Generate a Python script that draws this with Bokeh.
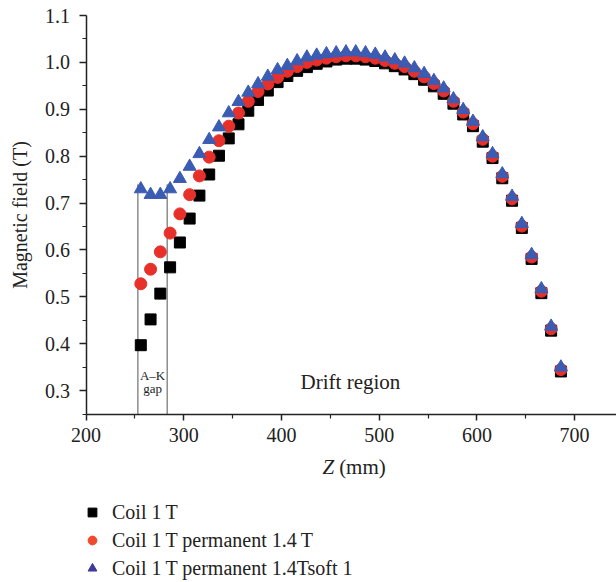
from bokeh.plotting import figure
from bokeh.models import Legend, LegendItem, Label, FixedTicker, PrintfTickFormatter
from bokeh.embed import file_html
from bokeh.resources import INLINE

# ---- data ----
z_mm = [256, 266, 276, 286, 296, 306, 316, 326, 336, 346, 356, 366, 376, 386, 396,
        406, 416, 426, 436, 446, 456, 466, 476, 486, 496, 506, 516, 526, 536, 546,
        556, 566, 576, 586, 596, 606, 616, 626, 636, 646, 656, 666, 676, 686]

coil_1T = [0.397, 0.452, 0.507, 0.563, 0.616, 0.667, 0.716, 0.761, 0.801, 0.838,
           0.868, 0.897, 0.920, 0.940, 0.958, 0.971, 0.982, 0.990, 0.997, 1.002,
           1.006, 1.008, 1.008, 1.006, 1.003, 0.998, 0.992, 0.985, 0.975, 0.963,
           0.949, 0.933, 0.912, 0.889, 0.864, 0.831, 0.796, 0.753, 0.705, 0.647,
           0.581, 0.508, 0.428, 0.341]

coil_perm = [0.528, 0.559, 0.596, 0.636, 0.677, 0.718, 0.758, 0.798, 0.833, 0.864,
             0.892, 0.917, 0.938, 0.954, 0.968, 0.981, 0.991, 1.000, 1.005, 1.009,
             1.012, 1.014, 1.014, 1.012, 1.009, 1.004, 0.998, 0.991, 0.981, 0.969,
             0.955, 0.939, 0.917, 0.894, 0.869, 0.836, 0.800, 0.757, 0.709, 0.651,
             0.585, 0.512, 0.432, 0.345]

coil_perm_soft = [0.730, 0.718, 0.718, 0.730, 0.752, 0.778, 0.805, 0.835, 0.862, 0.892,
                  0.916, 0.936, 0.954, 0.970, 0.984, 0.993, 1.003, 1.011, 1.015, 1.018,
                  1.020, 1.022, 1.022, 1.020, 1.017, 1.011, 1.005, 0.998, 0.988, 0.976,
                  0.961, 0.945, 0.922, 0.899, 0.874, 0.841, 0.805, 0.762, 0.714, 0.656,
                  0.590, 0.517, 0.437, 0.350]

series_names = ["Coil 1\u2009T", "Coil 1\u2009T permanent 1.4\u2009T",
                "Coil 1\u2009T permanent 1.4Tsoft 1"]

gap_edges = [253, 283]
gap_bottom = [0.25, 0.25]
gap_top = [0.74, 0.74]

x_ticks = [200, 300, 400, 500, 600, 700]
x_minor = [250, 350, 450, 550, 650]
y_ticks = [0.3, 0.4, 0.5, 0.6, 0.7, 0.8, 0.9, 1.0, 1.1]
y_minor = [0.25, 0.35, 0.45, 0.55, 0.65, 0.75, 0.85, 0.95, 1.05]

SERIF = "Liberation Serif"
AX = "#222222"

# the frame covers the whole canvas; axes sit at fixed data locations
p = figure(width=616, height=582, output_backend="svg", toolbar_location=None,
           x_range=(112.4, 742.9), y_range=(-0.109, 1.132),
           min_border_left=0, min_border_top=0, min_border_right=0,
           min_border_bottom=0)
p.outline_line_color = None
p.xgrid.visible = False
p.ygrid.visible = False
p.background_fill_color = "white"
p.border_fill_color = "white"

for ax in (p.xaxis[0], p.yaxis[0]):
    ax.axis_line_color = AX
    ax.axis_line_width = 1.5
    ax.major_tick_line_color = AX
    ax.major_tick_line_width = 1.5
    ax.minor_tick_line_color = AX
    ax.minor_tick_line_width = 1.2
    ax.major_tick_in = 0
    ax.minor_tick_in = 0
    ax.minor_tick_out = 4
    ax.major_label_text_font = SERIF
    ax.major_label_text_font_size = "20px"
    ax.major_label_text_color = AX

p.xaxis.fixed_location = 0.25
p.xaxis.bounds = (200, 742.9)
p.yaxis.fixed_location = 200
p.yaxis.bounds = (0.25, 1.1)
p.xaxis.ticker = FixedTicker(ticks=x_ticks, minor_ticks=x_minor)
p.yaxis.ticker = FixedTicker(ticks=y_ticks, minor_ticks=y_minor)
p.yaxis.formatter = PrintfTickFormatter(format="%.1f")
p.xaxis.major_tick_out = 6
p.yaxis.major_tick_out = 7
p.xaxis.major_label_standoff = 8
p.yaxis.major_label_standoff = 9

p.yaxis.axis_label = "Magnetic field (T)"
p.yaxis.axis_label_text_font = SERIF
p.yaxis.axis_label_text_font_size = "20px"
p.yaxis.axis_label_text_font_style = "normal"
p.yaxis.axis_label_text_color = AX
p.yaxis.axis_label_standoff = 12

# A-K gap lines
p.segment(x0=gap_edges, y0=gap_bottom, x1=gap_edges, y1=gap_top,
          line_color="#707070", line_width=1.2)

# data markers
p.scatter(z_mm, coil_1T, marker="square", size=11, fill_color="black", line_color="black")
p.scatter(z_mm, coil_perm, marker="circle", size=12, fill_color="#e8302a", line_color="#e8302a")
p.scatter(z_mm, coil_perm_soft, marker="triangle", size=13, fill_color="#3a5cb3", line_color="#3a5cb3")

# legend: hidden copies of the series carrying the legend colours
lg1 = p.scatter(z_mm, coil_1T, marker="square", size=11, fill_color="black",
                line_color="black", visible=False)
lg2 = p.scatter(z_mm, coil_perm, marker="circle", size=11, fill_color="#ee4a2b",
                line_color="#ee4a2b", visible=False)
lg3 = p.scatter(z_mm, coil_perm_soft, marker="triangle", size=10, fill_color="#3d3a9c",
                line_color="#3d3a9c", visible=False)
legend = Legend(items=[LegendItem(label=series_names[0], renderers=[lg1]),
                       LegendItem(label=series_names[1], renderers=[lg2]),
                       LegendItem(label=series_names[2], renderers=[lg3])],
                location=(81, 0), orientation="vertical",
                glyph_width=22, glyph_height=28, spacing=0, padding=0, margin=0,
                label_standoff=9, label_text_font=SERIF, label_text_font_size="20px",
                label_text_color=AX, label_height=28,
                inactive_fill_alpha=0,
                border_line_color=None, background_fill_alpha=0)
p.add_layout(legend, "center")

# texts
p.add_layout(Label(x=470.6, y=0.3175, text="Drift region", text_align="center",
                   text_baseline="middle", text_font=SERIF, text_font_size="21px",
                   text_color=AX))
p.add_layout(Label(x=268, y=0.3324, text="A\u2013K", text_align="center",
                   text_baseline="middle", text_font=SERIF, text_font_size="13px",
                   text_color=AX))
p.add_layout(Label(x=268, y=0.3047, text="gap", text_align="center",
                   text_baseline="middle", text_font=SERIF, text_font_size="13px",
                   text_color=AX))
p.add_layout(Label(x=442, y=0.138, text="Z", text_align="left",
                   text_baseline="middle", text_font=SERIF, text_font_size="21px",
                   text_font_style="italic", text_color=AX))
p.add_layout(Label(x=459, y=0.138, text="(mm)", text_align="left",
                   text_baseline="middle", text_font=SERIF, text_font_size="21px",
                   text_color=AX))

open("out.html", "w").write(file_html(p, INLINE))
